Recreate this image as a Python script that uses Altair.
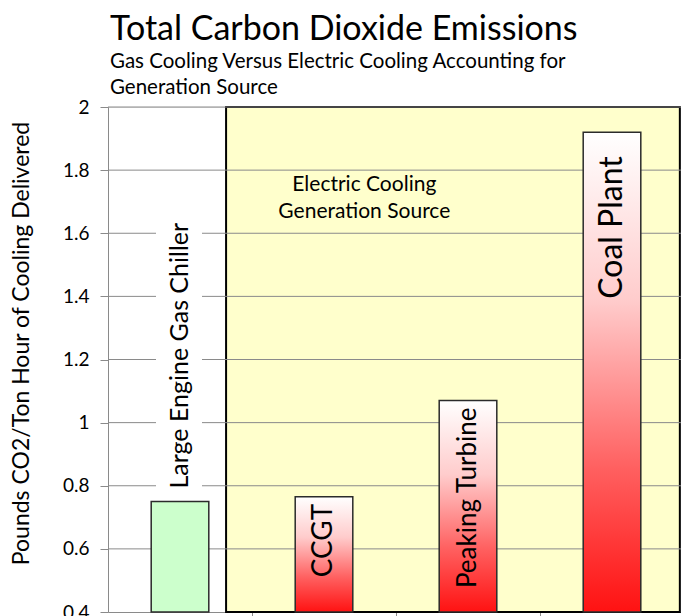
import altair as alt
import pandas as pd

# ---- data -------------------------------------------------------------
categories = ["Large Engine Gas Chiller", "CCGT", "Peaking Turbine", "Coal Plant"]
emissions = [0.75, 0.765, 1.07, 1.92]          # lb CO2 per ton-hour of cooling
cooling_type = ["Gas", "Electric", "Electric", "Electric"]
y_ticks = [0.4, 0.6, 0.8, 1.0, 1.2, 1.4, 1.6, 1.8, 2.0]
region_text = "Electric Cooling\nGeneration Source"

# ---- layout / style ---------------------------------------------------
FONT = "Lato"
Y_MIN, Y_MAX = 0.4, 2.0
SLOT = 144                      # px per category slot
PLOT_W, PLOT_H = 573, 505
X_MAX = PLOT_W / SLOT
PPU = PLOT_H / (Y_MAX - Y_MIN)  # px per unit on the y scale
BAR_HALF = 0.2                  # half bar width in slot units
GRID = "#8a8a8a"
EDGE = "#2b2b2b"

# per-label style: font size, alignment, offset along the text (px)
LABEL_STYLE = {
    "Large Engine Gas Chiller": dict(size=25, align="left", dx=13),
    "CCGT": dict(size=28, align="right", dx=-7),
    "Peaking Turbine": dict(size=26, align="right", dx=-7),
    "Coal Plant": dict(size=32, align="right", dx=-24),
}

df = pd.DataFrame({"category": categories, "value": emissions, "kind": cooling_type})
df["slot"] = range(len(df))
df["xc"] = df["slot"] + 0.5
df["x0"] = df["xc"] - BAR_HALF
df["x1"] = df["xc"] + BAR_HALF

# electric-cooling panel spans from just before the first electric slot
first_elec = int(df.loc[df["kind"] == "Electric", "slot"].min())
region_x0 = first_elec - 0.18
region_x1 = X_MAX - 0.008

x_scale = alt.Scale(domain=[0, X_MAX], nice=False, zero=False)
y_scale = alt.Scale(domain=[Y_MIN, Y_MAX], nice=False, zero=False)

x_axis = alt.Axis(values=[1, 2, 3], labels=False, title=None, grid=False,
                  domainColor=GRID, tickColor=GRID, tickSize=5)
y_axis = alt.Axis(values=y_ticks, format="~g", grid=False,
                  title="Pounds CO2/Ton Hour of Cooling Delivered",
                  titleFont=FONT, titleFontSize=23, titleFontWeight="normal",
                  titleColor="black", titlePadding=29, titleY=236,
                  labelFont=FONT, labelFontSize=19, labelColor="black",
                  labelPadding=11, domainColor=GRID, tickColor=GRID, tickSize=8)


def xq(field):
    return alt.X(field, type="quantitative", scale=x_scale, axis=x_axis)


def yq(field):
    return alt.Y(field, type="quantitative", scale=y_scale, axis=y_axis)


# yellow panel behind the electric generation sources
panel_df = pd.DataFrame({"x0": [region_x0], "x1": [region_x1],
                         "y0": [Y_MIN], "y1": [Y_MAX]})
panel = alt.Chart(panel_df).mark_rect(
    fill="#ffffcc", stroke="black", strokeWidth=2
).encode(x=xq("x0"), x2="x1", y=yq("y0"), y2="y1")

# horizontal grid lines (drawn above the panel, below the bars)
grid_df = pd.DataFrame({"y": y_ticks[1:], "x0": 0.0, "x1": X_MAX})
grid = alt.Chart(grid_df).mark_rule(color=GRID, strokeWidth=1).encode(
    x=xq("x0"), x2="x1", y=yq("y"))

# white backdrop behind the gas chiller label so grid lines break around it
gas = df[df["kind"] == "Gas"].iloc[0]
gas_len = 268
back_df = pd.DataFrame({
    "x0": [gas["xc"] - 24 / SLOT], "x1": [gas["xc"] + 22 / SLOT],
    "y0": [gas["value"] + 8 / PPU], "y1": [gas["value"] + (13 + gas_len) / PPU],
})
backdrop = alt.Chart(back_df).mark_rect(fill="white").encode(
    x=xq("x0"), x2="x1", y=yq("y0"), y2="y1")

base = alt.Chart(df)

gas_bar = base.transform_filter(alt.datum.kind == "Gas").mark_bar(
    fill="#ccffcc", stroke=EDGE, strokeWidth=1.5
).encode(x=xq("x0"), x2="x1", y=yq("value"), y2=alt.datum(Y_MIN))

red_fade = alt.Gradient(
    gradient="linear",
    stops=[alt.GradientStop(offset=0, color="#ffffff"),
           alt.GradientStop(offset=0.35, color="#ffcccc"),
           alt.GradientStop(offset=0.7, color="#ff6060"),
           alt.GradientStop(offset=1, color="#ff1212")],
    x1=0, x2=0, y1=0, y2=1,
)
elec_bars = base.transform_filter(alt.datum.kind == "Electric").mark_bar(
    color=red_fade, stroke=EDGE, strokeWidth=1.5
).encode(x=xq("x0"), x2="x1", y=yq("value"), y2=alt.datum(Y_MIN))

labels = []
for name, st in LABEL_STYLE.items():
    labels.append(
        base.transform_filter(alt.datum.category == name).mark_text(
            angle=270, align=st["align"], baseline="middle", dx=st["dx"],
            font=FONT, fontSize=st["size"], color="black"
        ).encode(x=xq("xc"), y=yq("value"), text="category:N")
    )

note_df = pd.DataFrame({"x": [first_elec + 0.78], "y": [1.753], "t": [region_text]})
note = alt.Chart(note_df).mark_text(
    font=FONT, fontSize=21, lineBreak="\n", lineHeight=27,
    align="center", baseline="middle", color="black"
).encode(x=xq("x"), y=yq("y"), text="t:N")

chart = alt.layer(panel, grid, backdrop, gas_bar, elec_bars, note, *labels).properties(
    width=PLOT_W, height=PLOT_H,
    title=alt.TitleParams(
        text="Total Carbon Dioxide Emissions",
        subtitle=["Gas Cooling Versus Electric Cooling Accounting for",
                  "Generation Source"],
        anchor="start", frame="group", dx=2, offset=0,
        font=FONT, fontSize=34, fontWeight="normal", color="black",
        subtitleFont=FONT, subtitleFontSize=20.5, subtitleColor="black",
        subtitleLineHeight=26, subtitlePadding=5,
    ),
    autosize=alt.AutoSizeParams(type="none"),
    padding={"left": 108, "top": 107, "right": 0, "bottom": 4},
).configure_view(stroke=None).configure(background="white")

chart.save("out.html", embed_options={"renderer": "svg", "actions": False})
